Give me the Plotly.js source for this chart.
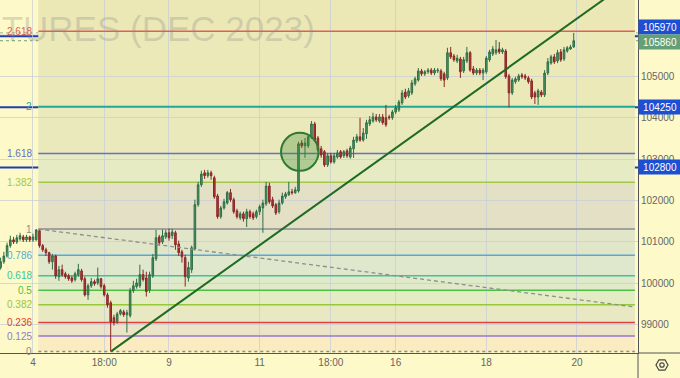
<!DOCTYPE html>
<html><head><meta charset="utf-8">
<script src="https://cdn.plot.ly/plotly-3.0.1.min.js"></script>
<style>html,body{margin:0;padding:0;background:#fdf9c8;}#chart{width:680px;height:378px;}</style>
</head><body><div id="chart"></div>
<script>
// ---- candle data (hourly, index based) ----
const open=[100380,100520,100660,100910,101050,101000,101070,101120,101050,101120,
101050,101050,101270,100910,100810,100740,100520,100660,100160,100330,
100230,100180,100130,100090,100210,100300,100110,99720,99940,100040,
100010,100110,99940,99720,99530,99170,99070,99260,99310,99240,
99220,99820,99920,99940,100210,100130,99840,100180,100590,101120,
101000,101120,101220,101150,101220,100950,100760,100620,100130,100330,
100830,101900,102380,102670,102600,102670,102550,102110,101610,101820,
101940,102190,102020,101750,101580,101680,101560,101730,101680,101610,
101730,101820,101920,102350,102020,101900,101730,101940,102090,102140,
102210,102190,102230,103390,103320,103320,103540,103850,103510,103250,
103180,102860,103080,102930,103050,103180,103080,103200,103050,103250,
103440,103540,103460,103610,103850,103920,104020,103920,104020,104000,
104020,104000,104140,104190,104360,104620,104530,104600,104820,104910,
105130,105060,105110,105150,105080,105130,105130,105060,104960,105570,
105490,105370,105420,105130,105370,105570,105180,105080,105150,105080,
105110,105400,105540,105570,105660,105590,105610,105010,104600,104870,
104910,105030,105010,104960,104890,104600,104500,104620,104550,105080,
105320,105470,105370,105590,105420,105610,105660,105710];
const high=[100620,100760,100980,101150,101120,101170,101220,101170,101170,101150,
101200,101310,101290,100950,100860,100760,100710,100690,100420,100450,
100280,100230,100180,100280,100470,100350,100160,99990,100130,100090,
100380,100130,99990,99770,99580,99240,99310,99380,99360,99360,
99890,100060,100110,100450,100330,100280,100280,100710,101290,101170,
101300,101290,101320,101320,101270,101030,100810,100690,100520,100910,
102020,102450,102720,102740,102740,102720,102600,102160,101870,102040,
102230,102280,102070,101800,101730,101730,101800,101780,101730,101780,
101900,102020,102450,102430,102090,101940,102020,102190,102210,102450,
102280,102330,103420,103460,103510,103590,103920,103900,103560,103320,
103220,103150,103150,103150,103220,103220,103220,103250,103320,103540,
103610,104000,103750,103950,104040,104120,104090,104090,104090,104310,
104070,104190,104310,104430,104670,104700,104720,104910,104990,105200,
105180,105150,105200,105200,105200,105200,105180,105110,105690,105710,
105540,105520,105470,105470,105710,105610,105250,105200,105200,105200,
105490,105640,105730,105880,105830,105690,105660,105060,104960,104990,
105060,105080,105060,105010,104940,104650,104700,104670,105150,105440,
105520,105540,105640,105660,105710,105730,105760,106050];
const low=[100330,100470,100620,100860,100950,100950,101030,101000,101000,101000,
101000,101030,100860,100760,100660,100470,100330,100110,100060,100160,
100110,100060,100010,100040,100160,100040,99680,99600,99890,99940,
99960,99870,99680,99410,98355,98980,99020,99220,99190,98810,
99170,99770,99870,99890,100040,99680,99770,100130,100540,100910,
100950,101070,101030,101070,100810,100660,100500,99920,100040,100250,
100790,101850,102330,102520,102550,102500,102040,101560,101560,101780,
101900,101970,101680,101560,101530,101490,101360,101560,101530,101560,
101650,101220,101870,101920,101820,101650,101680,101900,102040,102110,
102140,102160,102190,103270,103030,103270,103490,103420,103180,103030,
102810,102810,102890,102890,103010,103010,103030,103030,103010,103030,
103390,103420,103420,103490,103800,103880,103900,103880,103830,103780,
103950,103950,104090,104140,104310,104450,104480,104550,104770,104870,
105010,105010,105060,105030,105030,105080,104890,104740,104910,105420,
105350,105320,104960,105080,105320,105110,105030,105030,105030,104910,
105060,105350,105490,105520,105540,105540,104940,104250,104550,104820,
104870,104940,104910,104820,104450,104330,104310,104500,104500,105030,
105280,105300,105320,105350,105370,105570,105640,105690];
const close=[100520,100660,100910,101050,101000,101100,101150,101050,101120,101050,
101120,101290,100910,100810,100740,100520,100660,100180,100330,100210,
100160,100110,100060,100230,100330,100090,99720,99940,100040,99990,
100110,99920,99720,99480,99070,99050,99260,99340,99240,99290,
99820,99940,100010,100210,100090,99800,100210,100620,101100,100980,
101150,101220,101100,101240,100930,100740,100640,100160,100380,100860,
101900,102380,102640,102600,102670,102600,102090,101610,101820,101970,
102190,102020,101730,101610,101680,101560,101730,101610,101580,101730,
101850,101940,102350,101970,101870,101700,101940,102110,102160,102210,
102190,102260,103370,103320,103390,103540,103850,103460,103220,103100,
102860,103080,102930,103080,103150,103050,103180,103080,103270,103460,
103540,103460,103630,103880,103950,104020,103950,104020,103880,103830,
104000,104140,104240,104380,104600,104500,104650,104840,104940,105130,
105060,105110,105150,105080,105150,105150,104940,104910,105570,105470,
105400,105440,105110,105400,105570,105150,105080,105150,105080,105150,
105440,105590,105660,105640,105590,105640,104990,104600,104910,104940,
105010,104990,104960,104870,104500,104500,104650,104550,105080,105350,
105470,105350,105570,105400,105640,105690,105710,105860];

// ---- axis ticks ----
const tickIdx=[10,32,52,80,102,122,150,178];
const tickText=['4','18:00','9','11','18:00','16','18','20'];
const priceTicks=[99000,100000,101000,102000,103000,104000,105000];

// ---- Fibonacci retracement (anchors: swing high -> swing low) ----
const fibHigh=101310, fibLow=98355, fibStart=11.64, fibEnd=195.9;
const fibRatios=[0,0.125,0.236,0.382,0.5,0.618,0.786,1,1.382,1.618,2,2.618,3.618];
const fibLabels=['0','0.125','0.236','0.382','0.5','0.618','0.786','1','1.382','1.618','2','2.618'];
const fibColors=['#8c8c8c','#9479cf','#e0403c','#97c83a','#4fbf45','#3cc49c','#55a9d8','#8c8c8c','#a3c84a','#6470c4','#1fa896','#e06056'];
const bandColors=['#fbebc1','#ebe4c6','#e8e9c3','#e4ecc3','#e0e9c8','#dfe8cd','#e2e6c9','#e3e0c6','#e6ebc3','#eae9bb','#ebe9b8','#ebe8b5'];

// ---- other drawings ----
const hLevels=[105970,104250,102800];
const dotLevels=[106050,105860];
const dotColors=['#a4ae8e','#6fa07a'];
const tagValues=[105970,105860,104250,102800];
const tagColors=['#1d4fd4','#64a077','#1d4fd4','#1d4fd4'];
const tagShift=[9,-1,0,0];
const trendX=[34.1,200], trendY=[98355,107624];
const dashX=[11.64,195.9], dashY=[101310,99427];
const circleX=[86.6,98.2], circleY=[102716,103634];

const xs=open.map((_,i)=>i);
const fibPrice=r=>fibLow+r*(fibHigh-fibLow);
const FONT='Liberation Sans, Arial, sans-serif';

const shapes=[];
for(let i=1;i<fibRatios.length;i++){
  shapes.push({type:'rect',xref:'x',yref:'y',x0:fibStart,x1:fibEnd,y0:fibPrice(fibRatios[i-1]),y1:fibPrice(fibRatios[i]),
    fillcolor:bandColors[i-1],line:{width:0},layer:'below'});
}
// faint grid line at 106000 (its label is hidden behind the price tags)
shapes.push({type:'line',xref:'paper',yref:'y',x0:0,x1:1,y0:106000,y1:106000,line:{color:'rgba(200,206,214,0.75)',width:1},layer:'below'});
hLevels.forEach(p=>shapes.push({type:'line',xref:'paper',yref:'y',x0:0,x1:1,y0:p,y1:p,line:{color:'#1f3eb0',width:2},layer:'between'}));
fibLabels.forEach((t,i)=>{
  const p=fibPrice(fibRatios[i]);
  shapes.push({type:'line',xref:'x',yref:'y',x0:fibStart,x1:fibEnd,y0:p,y1:p,
    line:{color:fibColors[i],width:(t==='2'?2.2:1.5),dash:(t==='0'?'dot':'solid')},layer:'between'});
});
dotLevels.forEach((p,i)=>shapes.push({type:'line',xref:'paper',yref:'y',x0:0,x1:1,y0:p,y1:p,line:{color:dotColors[i],width:1,dash:'dot'},layer:'between'}));
shapes.push({type:'circle',xref:'x',yref:'y',x0:circleX[0],x1:circleX[1],y0:circleY[0],y1:circleY[1],
  fillcolor:'rgba(70,140,55,0.33)',line:{color:'#2e7a32',width:2},layer:'above'});
shapes.push({type:'line',xref:'paper',yref:'paper',x0:1,x1:1.07,y0:0,y1:0,line:{color:'#555',width:1}});
shapes.push({type:'line',xref:'paper',yref:'paper',x0:1,x1:1,y0:0,y1:-0.08,line:{color:'#555',width:1}});
shapes.push({type:'path',xref:'paper',yref:'paper',xsizemode:'pixel',ysizemode:'pixel',xanchor:1.0376,yanchor:-0.034,
  path:'M6,0 L3,5.2 L-3,5.2 L-6,0 L-3,-5.2 L3,-5.2 Z',line:{color:'#444',width:1.2}});
shapes.push({type:'circle',xref:'paper',yref:'paper',xsizemode:'pixel',ysizemode:'pixel',xanchor:1.0376,yanchor:-0.034,
  x0:-2.2,x1:2.2,y0:-2.2,y1:2.2,line:{color:'#444',width:1.2}});

const annotations=[];
annotations.push({xref:'paper',yref:'paper',x:317/638,y:0.92,xanchor:'right',yanchor:'middle',showarrow:false,
  text:'FUTURES (DEC 2023)',font:{family:FONT,size:35,color:'rgba(135,135,135,0.28)'}});
fibLabels.forEach((t,i)=>annotations.push({xref:'paper',yref:'y',x:34/638,y:fibPrice(fibRatios[i]),xanchor:'right',yanchor:'middle',
  showarrow:false,text:t,font:{family:FONT,size:10,color:fibColors[i]}}));
tagValues.forEach((v,i)=>annotations.push({xref:'paper',yref:'y',x:1,y:v,yshift:tagShift[i],xanchor:'left',yanchor:'middle',
  showarrow:false,text:String(v),bgcolor:tagColors[i],borderpad:1.5,width:39,align:'center',
  font:{family:FONT,size:10,color:'#ffffff'}}));

const traces=[
 {type:'candlestick',x:xs,open:open,high:high,low:low,close:close,hoverinfo:'skip',whiskerwidth:0,
  increasing:{line:{color:'#2f6e47',width:1},fillcolor:'#4a9766'},
  decreasing:{line:{color:'#8c2626',width:1},fillcolor:'#b23636'}},
 {type:'scatter',mode:'lines',x:dashX,y:dashY,hoverinfo:'skip',line:{color:'#8e8e8e',width:1.3,dash:'4px,3px'}},
 {type:'scatter',mode:'lines',x:trendX,y:trendY,hoverinfo:'skip',line:{color:'#1e6b22',width:2}}
];

const layout={
 width:680,height:378,margin:{l:0,r:42,t:0,b:25,pad:0},showlegend:false,
 paper_bgcolor:'#fdf9c8',plot_bgcolor:'#fdf9c8',font:{family:FONT,size:10,color:'#666'},
 xaxis:{range:[-0.19,196.85],tickvals:tickIdx,ticktext:tickText,showgrid:true,gridcolor:'rgba(200,206,214,0.75)',gridwidth:1,
   zeroline:false,showline:true,linecolor:'#555',linewidth:1,ticks:'',tickfont:{size:10,color:'#666'},rangeslider:{visible:false},fixedrange:true},
 yaxis:{side:'right',range:[98316,106844],tickvals:priceTicks,ticktext:priceTicks.map(String),showgrid:true,gridcolor:'rgba(200,206,214,0.75)',
   zeroline:false,showline:true,linecolor:'#555',linewidth:1,ticks:'',tickfont:{size:10,color:'#666'},fixedrange:true},
 shapes:shapes,annotations:annotations
};
Plotly.newPlot('chart',traces,layout,{staticPlot:true,displayModeBar:false});
</script></body></html>
